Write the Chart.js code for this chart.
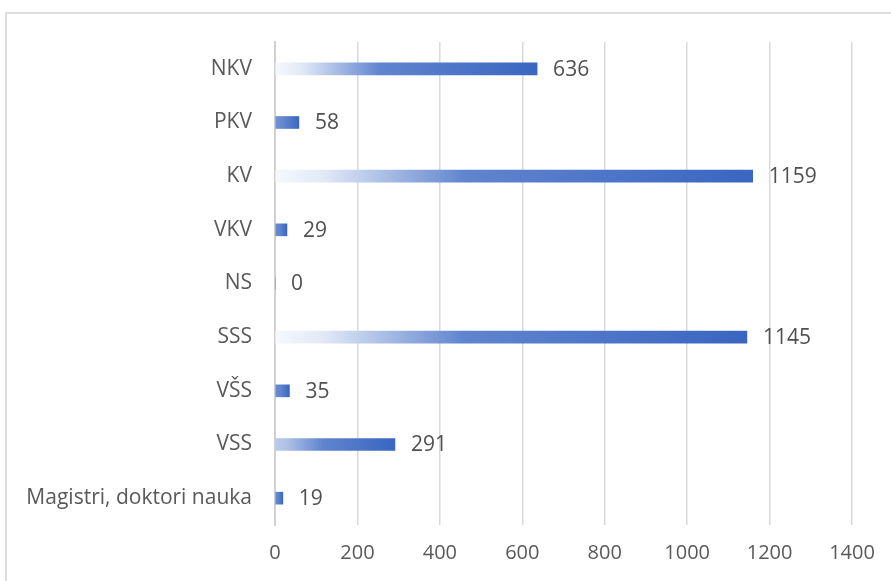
<!DOCTYPE html>
<html>
<head>
<meta charset="utf-8">
<script src="https://cdn.jsdelivr.net/npm/chart.js@4/dist/chart.umd.min.js"></script>
<style>
  html, body { margin: 0; padding: 0; background: #fff; overflow: hidden; }
  #frame {
    position: absolute; left: 5px; top: 12px; width: 1000px; height: 1000px;
    border: 2px solid #dedede; box-sizing: border-box;
  }
  #wrap { position: absolute; left: 0; top: 0; width: 891px; height: 581px; }
</style>
</head>
<body>
<div id="frame"></div>
<div id="wrap"><canvas id="chart" width="891" height="581"></canvas></div>
<script>
const categories = ['NKV', 'PKV', 'KV', 'VKV', 'NS', 'SSS', 'VŠS', 'VSS', 'Magistri, doktori nauka'];
const counts = [636, 58, 1159, 29, 0, 1145, 35, 291, 19];
const xTicks = [0, 200, 400, 600, 800, 1000, 1200, 1400];

const FONT = '"Open Sans", "Noto Sans", sans-serif';

function mix(a, b, t) {
  return a.map((v, i) => Math.round(v + (b[i] - v) * t));
}

function barFill(context) {
  const chart = context.chart;
  if (!chart.chartArea) return '#4472c4';
  const x = chart.scales.x;
  const v = context.raw;
  const x0 = x.getPixelForValue(0);
  const x1 = x.getPixelForValue(v);
  if (x1 - x0 < 1) return '#4472c4';
  // short bars stay mostly blue, long bars fade from white
  const fade = Math.min(1, (x1 - x0) / 200);
  const blue = [58, 102, 193];
  const mid = [96, 132, 206];
  const light = mix(mid, [246, 248, 253], fade);
  const g = chart.ctx.createLinearGradient(x0, 0, x1, 0);
  g.addColorStop(0, `rgb(${light.join(',')})`);
  g.addColorStop(0.1, `rgb(${mix(mid, [226, 234, 247], fade).join(',')})`);
  g.addColorStop(0.4, `rgb(${mid.join(',')})`);
  g.addColorStop(1, `rgb(${blue.join(',')})`);
  return g;
}

const valueLabels = {
  id: 'valueLabels',
  afterDatasetsDraw(chart) {
    const ctx = chart.ctx;
    const meta = chart.getDatasetMeta(0);
    ctx.save();
    ctx.font = '21px ' + FONT;
    ctx.fillStyle = '#505050';
    ctx.textAlign = 'left';
    ctx.textBaseline = 'middle';
    meta.data.forEach((bar, i) => {
      ctx.fillText(String(counts[i]), bar.x + 16, bar.y + 1);
    });
    ctx.restore();
  }
};

new Chart(document.getElementById('chart').getContext('2d'), {
  type: 'bar',
  data: {
    labels: categories,
    datasets: [{
      data: counts,
      backgroundColor: barFill,
      borderWidth: 0,
      barThickness: 12
    }]
  },
  options: {
    indexAxis: 'y',
    responsive: false,
    animation: false,
    layout: { padding: { top: 42, right: 39, bottom: 0, left: 0 } },
    plugins: {
      legend: { display: false },
      tooltip: { enabled: false }
    },
    scales: {
      x: {
        min: 0,
        max: 1400,
        afterBuildTicks(scale) {
          scale.ticks = xTicks.map(v => ({ value: v }));
        },
        grid: { color: '#d9d9d9', lineWidth: 1.5, drawTicks: false },
        border: { display: false },
        ticks: {
          padding: 16,
          color: '#595959',
          font: { family: FONT, size: 20 },
          callback: v => String(v)
        }
      },
      y: {
        afterFit(scale) { scale.width = 275; },
        grid: { display: false, drawTicks: false },
        border: { display: true, color: '#d0d0d0', width: 2 },
        ticks: {
          padding: 23,
          color: '#595959',
          font: { family: FONT, size: 21 }
        }
      }
    }
  },
  plugins: [valueLabels]
});
</script>
</body>
</html>
